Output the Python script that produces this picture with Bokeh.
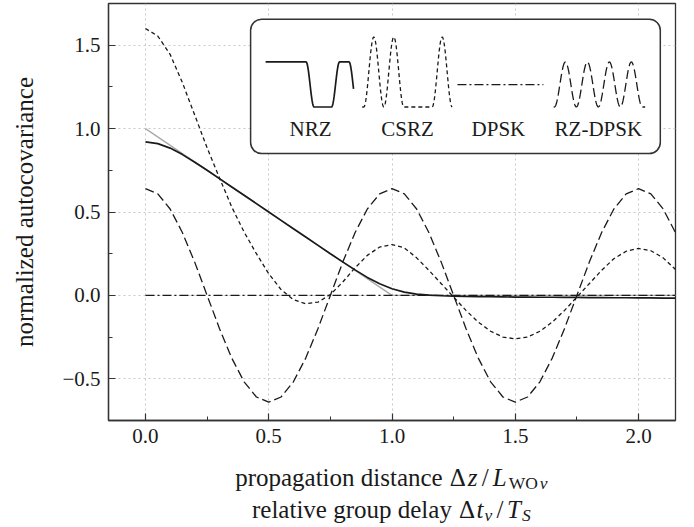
from bokeh.plotting import figure
from bokeh.layouts import column
from bokeh.models import Range1d, FixedTicker, CustomJSTickFormatter
from bokeh.core.properties import value
from bokeh.embed import file_html
from bokeh.resources import INLINE
import numpy as np

# ---------------- data ----------------
X = [0.00, 0.05, 0.10, 0.15, 0.20, 0.25, 0.30, 0.35, 0.40, 0.45,
     0.50, 0.55, 0.60, 0.65, 0.70, 0.75, 0.80, 0.85, 0.90, 0.95,
     1.00, 1.05, 1.10, 1.15, 1.20, 1.25, 1.30, 1.35, 1.40, 1.45,
     1.50, 1.55, 1.60, 1.65, 1.70, 1.75, 1.80, 1.85, 1.90, 1.95,
     2.00, 2.05, 2.10, 2.15]

NRZ = [0.920, 0.910, 0.883, 0.844, 0.798, 0.750, 0.700, 0.650, 0.600, 0.550,
       0.500, 0.450, 0.400, 0.350, 0.300, 0.250, 0.201, 0.153, 0.108, 0.070,
       0.040, 0.020, 0.008, 0.002, -0.002, -0.004, -0.006, -0.007, -0.008, -0.009,
       -0.010, -0.010, -0.011, -0.011, -0.012, -0.012, -0.013, -0.013, -0.014, -0.014,
       -0.015, -0.015, -0.016, -0.016]

CSRZ = [1.600, 1.555, 1.445, 1.275, 1.080, 0.885, 0.705, 0.530, 0.380, 0.250,
        0.130, 0.035, -0.025, -0.050, -0.040, 0.005, 0.080, 0.165, 0.240, 0.290,
        0.305, 0.285, 0.225, 0.150, 0.070, -0.010, -0.090, -0.160, -0.215, -0.250,
        -0.260, -0.250, -0.215, -0.160, -0.090, -0.010, 0.070, 0.150, 0.220, 0.265,
        0.282, 0.268, 0.225, 0.155]

RZ_DPSK = [0.640, 0.609, 0.518, 0.376, 0.198, 0.000, -0.198, -0.376, -0.518, -0.609,
           -0.640, -0.609, -0.518, -0.376, -0.198, 0.000, 0.198, 0.376, 0.518, 0.609,
           0.640, 0.609, 0.518, 0.376, 0.198, 0.000, -0.198, -0.376, -0.518, -0.609,
           -0.640, -0.609, -0.518, -0.376, -0.198, 0.000, 0.198, 0.376, 0.518, 0.609,
           0.640, 0.609, 0.518, 0.376]

DPSK_X = [0.0, 2.15]
DPSK = [0.0, 0.0]

TRI_X = [0.0, 1.0, 2.15]
TRI = [1.0, 0.0, 0.0]

X_TICKS = [0.0, 0.5, 1.0, 1.5, 2.0]
X_MINOR = [0.25, 0.75, 1.25, 1.75]
Y_TICKS = [-0.5, 0.0, 0.5, 1.0, 1.5]
Y_MINOR = [-0.25, 0.25, 0.75, 1.25]

LEGEND_NAMES = ["NRZ", "CSRZ", "DPSK", "RZ-DPSK"]

# ---------------- layout constants ----------------
FONT = "Liberation Serif"
INK = "#1a1a1a"
W = 692
BL, BR = 108, 17            # left / right borders -> 567 px wide frame
H_MAIN = 453                # 3 + 417 + 33
H_LAB = 72
FRAME_W = W - BL - BR

# ---------------- main figure ----------------
p = figure(width=W, height=H_MAIN,
           x_range=Range1d(-0.15, 2.15), y_range=Range1d(-0.75, 1.75),
           output_backend="svg", toolbar_location=None,
           min_border_left=BL, min_border_right=BR,
           min_border_top=3, min_border_bottom=33)
p.background_fill_color = "white"
p.border_fill_color = "white"
p.outline_line_color = "#333333"
p.outline_line_width = 1.3

xt = FixedTicker(ticks=X_TICKS, minor_ticks=X_MINOR)
yt = FixedTicker(ticks=Y_TICKS, minor_ticks=Y_MINOR)
p.xaxis.ticker = xt
p.yaxis.ticker = yt
p.xgrid.ticker = xt
p.ygrid.ticker = yt
fmt = CustomJSTickFormatter(code="return (tick < 0 ? '\u2212' : '') + Math.abs(tick).toFixed(1);")
p.xaxis.formatter = fmt
p.yaxis.formatter = fmt

for ax in (p.xaxis[0], p.yaxis[0]):
    ax.major_tick_in = 7
    ax.major_tick_out = 0
    ax.minor_tick_in = 4
    ax.minor_tick_out = 0
    ax.axis_line_color = "#333333"
    ax.axis_line_width = 1.3
    ax.major_tick_line_color = "#333333"
    ax.minor_tick_line_color = "#333333"
    ax.major_tick_line_width = 1.2
    ax.minor_tick_line_width = 1.0
    ax.major_label_text_font = FONT
    ax.major_label_text_font_size = "21px"
    ax.major_label_text_color = INK
    ax.major_label_standoff = 8

p.yaxis.axis_label = "normalized autocovariance"
p.yaxis.axis_label_text_font = FONT
p.yaxis.axis_label_text_font_size = "25px"
p.yaxis.axis_label_text_font_style = "normal"
p.yaxis.axis_label_text_color = INK
p.yaxis.axis_label_standoff = 21

for g in (p.xgrid[0], p.ygrid[0]):
    g.grid_line_color = "#c8c8c8"
    g.grid_line_dash = "2 3"
    g.grid_line_width = 1

# ---------------- curves ----------------
p.line(TRI_X, TRI, line_color="#a8a8a8", line_width=1.3)
p.line(DPSK_X, DPSK, line_color=INK, line_width=1.3, line_dash="9 3 2 3")
p.line(X, RZ_DPSK, line_color=INK, line_width=1.3, line_dash="9 4")
p.line(X, CSRZ, line_color=INK, line_width=1.3, line_dash="4 3")
p.line(X, NRZ, line_color=INK, line_width=1.7)

# ---------------- pictorial legend ----------------
def rx(px):
    return (px - 144.8) / 246.7

def ry(py):
    return (295.0 - py) / 166.7

p.quad(left=[rx(250)], right=[rx(660)], top=[ry(19)], bottom=[ry(153.3)],
       fill_color="white", line_color="#333333", line_width=1.5, border_radius=11)

def step(u, h=4.0):
    u = np.clip(u / h, -1, 1)
    return 0.5 * (1 + np.sin(np.pi * u / 2))

def pulses(xs, centers, half):
    lv = np.zeros_like(xs)
    for c in centers:
        d = xs - c
        m = np.abs(d) < half
        lv[m] += np.cos(np.pi * d[m] / (2 * half)) ** 2
    return lv

# NRZ waveform icon
xs = np.arange(265.0, 353.01, 0.5)
lv = 1 - step(xs - 309.5) + step(xs - 335.0) - step(xs - 352.5)
p.line(rx(xs), ry(106.7 - 45 * lv), line_color=INK, line_width=1.7)

# CSRZ waveform icon
xs = np.arange(361.7, 451.71, 0.5)
lv = pulses(xs, [373.3, 393.3, 441.7], 10.0)
p.line(rx(xs), ry(106.7 - 70 * lv), line_color=INK, line_width=1.3, line_dash="4 3")

# DPSK icon
p.line([rx(457), rx(543)], [ry(84.3), ry(84.3)], line_color=INK, line_width=1.3,
       line_dash="9 3 2 3")

# RZ-DPSK waveform icon
xs = np.arange(553.3, 645.01, 0.5)
lv = pulses(xs, [565.0, 587.0, 609.0, 631.0], 11.0)
p.line(rx(xs), ry(106.7 - 45 * lv), line_color=INK, line_width=1.3, line_dash="9 4")

p.text(x=[rx(310), rx(407), rx(498), rx(598)], y=[ry(128.7)] * 4, text=LEGEND_NAMES,
       text_font=value(FONT), text_font_size="21px", text_color=INK,
       text_align="center", text_baseline="alphabetic")

# ---------------- two-line x label (strip below the plot, same frame width) ----------------
q = figure(width=W, height=H_LAB, x_range=Range1d(0, FRAME_W), y_range=Range1d(H_LAB, 0),
           output_backend="svg", toolbar_location=None,
           x_axis_type=None, y_axis_type=None,
           min_border_left=BL, min_border_right=BR, min_border_top=0, min_border_bottom=0)
q.outline_line_color = None
q.xgrid.visible = False
q.ygrid.visible = False
q.background_fill_color = "white"
q.border_fill_color = "white"

F = 25.0

def math_label(pieces, total_em, base):
    start = FRAME_W / 2 - total_em * F / 2
    for (txt, s, style, at_em, dy) in pieces:
        q.text(x=[start + at_em * F], y=[base + dy * F], text=[txt],
               text_font=value(FONT), text_font_size=f"{s * F:.1f}px",
               text_font_style=style, text_color=INK,
               text_align="left", text_baseline="alphabetic")

# (text, size factor, style, start position in em, baseline shift in em)
line1 = [("propagation distance", 1.0, "normal", 0.00, 0),
         ("\u0394", 1.0, "normal", 8.58, 0),
         ("z", 1.0, "italic", 9.30, 0),
         ("/", 1.0, "normal", 9.86, 0),
         ("L", 1.0, "italic", 10.30, 0),
         ("WO", 0.7, "normal", 10.94, 0.2),
         ("\u03bd", 0.7, "italic", 12.18, 0.2)]
line2 = [("relative group delay", 1.0, "normal", 0.00, 0),
         ("\u0394", 1.0, "normal", 8.28, 0),
         ("t", 1.0, "italic", 8.98, 0),
         ("\u03bd", 0.7, "italic", 9.30, 0.2),
         ("/", 1.0, "normal", 9.78, 0),
         ("T", 1.0, "italic", 10.20, 0),
         ("S", 0.7, "italic", 10.80, 0.2)]

math_label(line1, 12.55, 24)
math_label(line2, 11.20, 56)

layout = column(p, q, spacing=0)
open("out.html", "w").write(file_html(layout, INLINE))
